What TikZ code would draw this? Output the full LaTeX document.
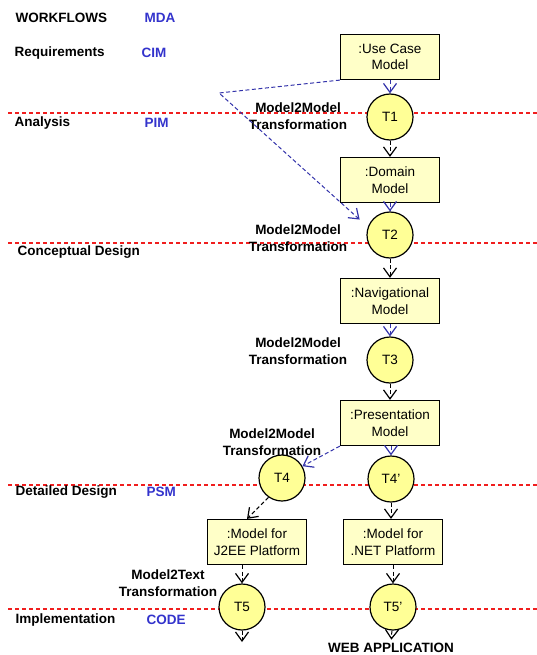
\documentclass[tikz,border=0pt]{standalone}
\usepackage{fontspec}
\setmainfont{Liberation Sans}
\usetikzlibrary{arrows.meta}
\definecolor{mdablue}{RGB}{51,51,204}
\definecolor{depblue}{RGB}{51,51,170}
\definecolor{boxfill}{RGB}{255,255,200}
\definecolor{tfill}{RGB}{255,255,150}
\definecolor{lvlred}{RGB}{240,30,30}
\begin{document}
\begin{tikzpicture}[x=1pt, y=-1pt,
    font=\fontsize{13.5}{16.5}\selectfont,
    modelbox/.style={draw, line width=1.2pt, fill=boxfill, align=center,
      minimum width=99pt, minimum height=45pt, inner sep=2pt},
    trans/.style={circle, draw, line width=1.2pt, fill=tfill, minimum size=46pt, inner sep=0pt},
    lbl/.style={font=\fontsize{13.5}{16.5}\selectfont\bfseries, align=center},
    flow/.style={anchor=west, font=\fontsize{13.5}{16.5}\selectfont\bfseries},
    level/.style={anchor=west, text=mdablue, font=\fontsize{13.5}{16.5}\selectfont\bfseries},
    usedep/.style={depblue, line width=1pt, dash pattern=on 4pt off 2.5pt,
      -{Straight Barb[length=9pt,width=13pt,line width=1.2pt]}},
    gendep/.style={black, line width=1pt, dash pattern=on 4pt off 2.5pt,
      -{Straight Barb[length=9pt,width=13pt,line width=1.2pt]}}]
  \useasboundingbox (0,0) rectangle (537,655);
  \foreach \y in {113, 243, 485, 609}
  {
    \draw [lvlred, line width=1.1pt, dash pattern=on 4pt off 3pt] (8,\y) -- (537,\y);
  }
  \node [flow] (wf) at (12,18) {WORKFLOWS};
  \node [level] (mda) at (141,18) {MDA};
  \node [flow] (req) at (11,53) {Requirements};
  \node [level] (cim) at (138,53) {CIM};
  \node [flow] (ana) at (11,123) {Analysis};
  \node [level] (pim) at (141,123) {PIM};
  \node [flow] (con) at (14,252) {Conceptual Design};
  \node [flow] (det) at (12,492) {Detailed Design};
  \node [level] (psm) at (143,492) {PSM};
  \node [flow] (imp) at (12,620) {Implementation};
  \node [level] (code) at (143,620) {CODE};

  \node [modelbox] (uc) at (390,57) {:Use Case\\Model};
  \node [trans] (t1) at (390,117) {T1};
  \node [modelbox] (dom) at (390,180) {:Domain\\Model};
  \node [trans] (t2) at (390,235) {T2};
  \node [modelbox] (nav) at (390,301) {:Navigational\\Model};
  \node [trans] (t3) at (390,360) {T3};
  \node [modelbox] (pres) at (390,423) {:Presentation\\Model};
  \node [trans] (t4) at (282,478) {T4};
  \node [trans] (t4p) at (391,479) {T4'};
  \node [modelbox] (jee) at (257,542) {:Model for\\J2EE Platform};
  \node [modelbox] (net) at (393,542) {:Model for\\.NET Platform};
  \node [trans] (t5) at (242,607) {T5};
  \node [trans] (t5p) at (393,607) {T5'};
  \coordinate (t5out) at (242,642);
  \node [lbl] (web) at (391,648) {WEB APPLICATION};
  \coordinate (bend) at (219,93);

  \node [lbl] (m1) at (298,116) {Model2Model\\Transformation};
  \node [lbl] (m2) at (298,238) {Model2Model\\Transformation};
  \node [lbl] (m3) at (298,351) {Model2Model\\Transformation};
  \node [lbl] (m4) at (272,442) {Model2Model\\Transformation};
  \node [lbl] (m5) at (168,583) {Model2Text\\Transformation};

  \draw [usedep] (uc) -- (t1);
  \draw [gendep] (t1) -- (dom);
  \draw [usedep] (dom) -- (t2);
  \draw [gendep] (t2) -- (nav);
  \draw [usedep] (nav) -- (t3);
  \draw [gendep] (t3) -- (pres);
  \draw [usedep] (pres.south -| t4p) -- (t4p);
  \draw [usedep] (pres.south west) -- (t4.30);
  \draw [usedep, shorten >=11pt] (uc.south west) -- (bend) -- (t2.160);
  \draw [gendep] (t4.235) -- ([xshift=-10pt]jee.north);
  \draw [gendep] (t4p) -- (t4p |- net.north);
  \draw [gendep] (t5 |- jee.south) -- (t5);
  \draw [gendep] (t5p |- net.south) -- (t5p);
  \draw [gendep] (t5) -- (t5out);
  \draw [gendep] (t5p) -- (web);
\end{tikzpicture}
\end{document}
